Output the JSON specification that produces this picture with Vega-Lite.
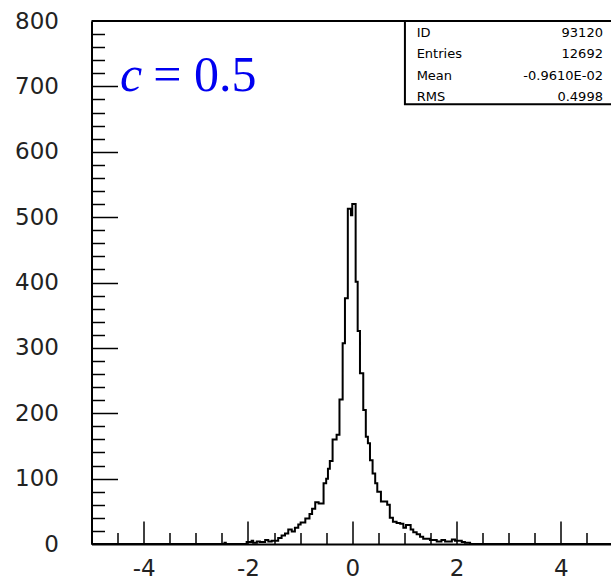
{
  "$schema": "https://vega.github.io/schema/vega-lite/v6.json",
  "width": 519,
  "height": 523,
  "autosize": {"type": "none"},
  "padding": {"left": 91.5, "top": 21, "right": 0, "bottom": 37},
  "background": "white",
  "config": {"view": {"stroke": null}},
  "data": {"values": [{}]},
  "datasets": {
    "hist": [
      {"x": -5, "n": 0},
      {"x": -2.45, "n": 2},
      {"x": -2.425, "n": 0},
      {"x": -2.025, "n": 3},
      {"x": -1.93, "n": 5},
      {"x": -1.9, "n": 2},
      {"x": -1.83, "n": 4},
      {"x": -1.77, "n": 3},
      {"x": -1.67, "n": 6},
      {"x": -1.61, "n": 4},
      {"x": -1.545, "n": 5},
      {"x": -1.42, "n": 9},
      {"x": -1.355, "n": 13},
      {"x": -1.29, "n": 16},
      {"x": -1.227, "n": 22},
      {"x": -1.16, "n": 19},
      {"x": -1.1, "n": 25},
      {"x": -1.035, "n": 30},
      {"x": -0.99, "n": 33},
      {"x": -0.9, "n": 39},
      {"x": -0.82, "n": 46},
      {"x": -0.77, "n": 54},
      {"x": -0.71, "n": 64},
      {"x": -0.645, "n": 62},
      {"x": -0.55, "n": 93},
      {"x": -0.5, "n": 100},
      {"x": -0.466, "n": 115},
      {"x": -0.43, "n": 127},
      {"x": -0.377, "n": 160},
      {"x": -0.3, "n": 167},
      {"x": -0.245, "n": 221},
      {"x": -0.184, "n": 307},
      {"x": -0.14, "n": 376},
      {"x": -0.085, "n": 513},
      {"x": -0.025, "n": 503},
      {"x": 0, "n": 520},
      {"x": 0.065, "n": 401},
      {"x": 0.104, "n": 326},
      {"x": 0.148, "n": 261},
      {"x": 0.211, "n": 205},
      {"x": 0.26, "n": 164},
      {"x": 0.3, "n": 154},
      {"x": 0.34, "n": 128},
      {"x": 0.39, "n": 108},
      {"x": 0.44, "n": 93},
      {"x": 0.48, "n": 80},
      {"x": 0.55, "n": 65},
      {"x": 0.67, "n": 60},
      {"x": 0.72, "n": 40},
      {"x": 0.78, "n": 34},
      {"x": 0.85, "n": 32},
      {"x": 0.92, "n": 31},
      {"x": 0.98, "n": 25},
      {"x": 1.03, "n": 29},
      {"x": 1.12, "n": 22},
      {"x": 1.17, "n": 18},
      {"x": 1.235, "n": 15},
      {"x": 1.3, "n": 11},
      {"x": 1.36, "n": 8},
      {"x": 1.49, "n": 6},
      {"x": 1.62, "n": 4},
      {"x": 1.71, "n": 6},
      {"x": 1.78, "n": 4},
      {"x": 1.91, "n": 7},
      {"x": 1.97, "n": 5},
      {"x": 2.1, "n": 3},
      {"x": 2.16, "n": 2},
      {"x": 2.26, "n": 0},
      {"x": 5, "n": 0}
    ]
  },
  "resolve": {"axis": {"x": "independent", "y": "independent"}},
  "layer": [
    {
      "data": {"name": "hist"},
      "mark": {"type": "line", "interpolate": "step-after", "stroke": "black", "strokeWidth": 2},
      "encoding": {
        "x": {
          "field": "x", "type": "quantitative",
          "scale": {"domain": [-5, 4.952], "nice": false, "zero": false},
          "axis": {
            "orient": "bottom", "title": null, "grid": false, "ticks": false,
            "values": [-4, -2, 0, 2, 4],
            "domain": true, "domainColor": "black", "domainWidth": 2,
            "labelExpr": "datum.value < 0 ? '-' + abs(datum.value) : '' + datum.value",
            "labelFont": "DejaVu Sans", "labelFontSize": 23, "labelColor": "#222",
            "labelPadding": 31, "labelBaseline": "alphabetic", "labelFlush": false, "labelOverlap": false
          }
        },
        "y": {
          "field": "n", "type": "quantitative",
          "scale": {"domain": [0, 800], "nice": false},
          "axis": {
            "orient": "left", "title": null, "grid": false, "ticks": false,
            "values": [0, 100, 200, 300, 400, 500, 600, 700, 800],
            "domain": true, "domainColor": "black", "domainWidth": 2,
            "labelFont": "DejaVu Sans", "labelFontSize": 23, "labelColor": "#222",
            "labelPadding": 33, "labelBaseline": "middle", "labelFlush": false, "labelOverlap": false
          }
        }
      }
    },
    {
      "mark": {"type": "rule", "stroke": "black", "strokeWidth": 2},
      "encoding": {
        "x": {
          "datum": -5, "type": "quantitative",
          "scale": {"domain": [-5, 4.952], "nice": false, "zero": false},
          "axis": {
            "orient": "bottom", "title": null, "grid": false, "labels": false, "domain": false,
            "values": [-4, -2, 0, 2, 4], "ticks": true, "tickSize": -23, "tickWidth": 1.5, "tickColor": "black"
          }
        },
        "x2": {"datum": 5},
        "y": {
          "datum": 800, "type": "quantitative",
          "scale": {"domain": [0, 800], "nice": false},
          "axis": {
            "orient": "left", "title": null, "grid": false, "labels": false, "domain": false,
            "values": [100, 200, 300, 400, 500, 600, 700], "ticks": true, "tickSize": -26, "tickWidth": 1.5, "tickColor": "black"
          }
        }
      }
    },
    {
      "mark": {"type": "rect", "fill": "white", "stroke": "black", "strokeWidth": 2},
      "encoding": {
        "x": {
          "datum": 1.01, "type": "quantitative",
          "scale": {"domain": [-5, 4.952], "nice": false, "zero": false},
          "axis": {
            "orient": "bottom", "title": null, "grid": false, "labels": false, "domain": false,
            "values": [-4.5, -3.5, -3, -2.5, -1.5, -1, -0.5, 0.5, 1, 1.5, 2.5, 3, 3.5, 4.5],
            "ticks": true, "tickSize": -11.5, "tickWidth": 1.5, "tickColor": "black"
          }
        },
        "x2": {"datum": 5},
        "y": {
          "datum": 672.5, "type": "quantitative",
          "scale": {"domain": [0, 800], "nice": false},
          "axis": {
            "orient": "left", "title": null, "grid": false, "labels": false, "domain": false,
            "values": [20, 40, 60, 80, 120, 140, 160, 180, 220, 240, 260, 280, 320, 340, 360, 380, 420, 440, 460, 480, 520, 540, 560, 580, 620, 640, 660, 680, 720, 740, 760, 780],
            "ticks": true, "tickSize": -13, "tickWidth": 1.5, "tickColor": "black"
          }
        },
        "y2": {"datum": 800}
      }
    },
    {
      "mark": {"type": "text", "text": ["ID", "Entries", "Mean", "RMS"], "align": "left", "baseline": "middle", "lineHeight": 21.2, "font": "DejaVu Sans", "fontSize": 13, "color": "black"},
      "encoding": {
        "x": {"datum": 1.235, "type": "quantitative", "scale": {"domain": [-5, 4.952], "nice": false, "zero": false}, "axis": null},
        "y": {"datum": 781.3, "type": "quantitative", "scale": {"domain": [0, 800], "nice": false}, "axis": null}
      }
    },
    {
      "mark": {"type": "text", "text": ["93120", "12692", "-0.9610E-02", "0.4998"], "align": "right", "baseline": "middle", "lineHeight": 21.2, "font": "DejaVu Sans", "fontSize": 13, "color": "black"},
      "encoding": {
        "x": {"datum": 4.807, "type": "quantitative", "scale": {"domain": [-5, 4.952], "nice": false, "zero": false}, "axis": null},
        "y": {"datum": 781.3, "type": "quantitative", "scale": {"domain": [0, 800], "nice": false}, "axis": null}
      }
    },
    {
      "mark": {"type": "text", "text": "c", "align": "left", "baseline": "alphabetic", "font": "Liberation Serif", "fontStyle": "italic", "fontSize": 50, "color": "#0000f0"},
      "encoding": {
        "x": {"datum": -4.455, "type": "quantitative", "scale": {"domain": [-5, 4.952], "nice": false, "zero": false}, "axis": null},
        "y": {"datum": 692.7, "type": "quantitative", "scale": {"domain": [0, 800], "nice": false}, "axis": null}
      }
    },
    {
      "mark": {"type": "text", "text": "= 0.5", "align": "left", "baseline": "alphabetic", "font": "Liberation Serif", "fontSize": 50, "color": "#0000f0"},
      "encoding": {
        "x": {"datum": -3.816, "type": "quantitative", "scale": {"domain": [-5, 4.952], "nice": false, "zero": false}, "axis": null},
        "y": {"datum": 692.7, "type": "quantitative", "scale": {"domain": [0, 800], "nice": false}, "axis": null}
      }
    }
  ]
}
